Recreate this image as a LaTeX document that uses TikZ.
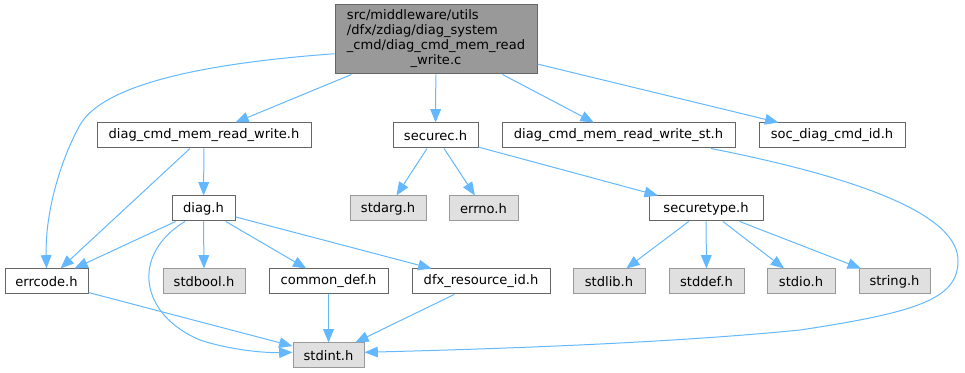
\documentclass[tikz,border=0pt]{standalone}
\usepackage{fontspec}
\setmainfont{DejaVu Sans}
\usepackage{tikz}
\usetikzlibrary{
    arrows.meta,
    positioning
}
\tikzset{
  hfile/.style   = {draw=EdgeGray, fill=white, line width=0.75pt, inner sep=0pt,
                    minimum height=18.75pt, align=center},
  sysfile/.style = {hfile, draw=SysBorder, fill=SysFill},
  srcfile/.style = {draw=EdgeGray, fill=SrcFill, line width=0.75pt, inner sep=0pt,
                    minimum width=151.5pt, minimum height=51.75pt},
  arr/.style     = {-{Triangle[length=10pt,width=8pt]}, line width=0.75pt, DepBlue}
}
\definecolor{DepBlue}{RGB}{99,184,255}
\definecolor{EdgeGray}{RGB}{102,102,102}
\definecolor{SysBorder}{RGB}{153,153,153}
\definecolor{SysFill}{RGB}{224,224,224}
\definecolor{SrcFill}{RGB}{153,153,153}

\begin{document}
\begin{tikzpicture}[x=0.75pt, y=-0.75pt, every node/.style={font=\fontsize{9.8}{11.25}\selectfont}]
\useasboundingbox (0,0) rectangle (965,373);
% source file
\node[srcfile] (root) at (436,39.5)
    {\begin{tabular}{@{}l@{}}src/middleware/utils\\/dfx/zdiag/diag\_system\\\_cmd/diag\_cmd\_mem\_read\\\multicolumn{1}{@{}c@{}}{\_write.c}\end{tabular}};
% first row
\node[hfile, minimum width=160.5pt] (dmrw)    at (204,135.5)   {diag\_cmd\_mem\_read\_write.h};
\node[hfile, minimum width=63.75pt] (securec) at (435.5,135.5) {securec.h};
\node[hfile, minimum width=174.75pt] (dmrwst) at (618.5,135.5) {diag\_cmd\_mem\_read\_write\_st.h};
\node[hfile, minimum width=109.5pt] (socid)   at (832,135.5)   {soc\_diag\_cmd\_id.h};
% second row
\node[hfile, minimum width=47.25pt] (diagh)   at (203.5,208.5) {diag.h};
\node[sysfile, minimum width=57pt]  (stdarg)  at (388,208.5)   {stdarg.h};
\node[sysfile, minimum width=51.75pt] (errno) at (483.5,208.5) {errno.h};
\node[hfile, minimum width=85.5pt]  (sectype) at (706,208.5)   {securetype.h};
% third row
\node[hfile, minimum width=62.25pt] (errcode)   at (46.5,281.5)  {errcode.h};
\node[sysfile, minimum width=61.5pt] (stdbool)  at (204,281.5)   {stdbool.h};
\node[hfile, minimum width=89.25pt] (commondef) at (328.5,281.5) {common\_def.h};
\node[hfile, minimum width=103.5pt] (dfxres)    at (481,281.5)   {dfx\_resource\_id.h};
\node[sysfile, minimum width=54pt]  (stdlib)    at (609,281.5)   {stdlib.h};
\node[sysfile, minimum width=56.25pt] (stddef)  at (706.5,281.5) {stddef.h};
\node[sysfile, minimum width=51pt]  (stdio)     at (801,281.5)   {stdio.h};
\node[sysfile, minimum width=53.25pt] (string)  at (894.5,281.5) {string.h};
% bottom
\node[sysfile, minimum width=53.25pt] (stdint)  at (328.5,355.5) {stdint.h};

% includes of the source file
\draw[arr] (root.188) .. controls (180,65) and (100,90) .. (80,125)
           .. controls (62,157) and (45,210) .. (errcode.north);
\draw[arr] (root) -- (dmrw);
\draw[arr] (root) -- (securec);
\draw[arr] (root) -- (dmrwst);
\draw[arr] (root) -- (socid);
% headers
\draw[arr] (dmrw) -- (diagh);
\draw[arr] (dmrw) -- (errcode);
\draw[arr] (diagh) -- (errcode);
\draw[arr] (diagh.215) .. controls (130,255) and (140,315) .. (200,340)
           .. controls (230,350) and (265,353) .. (stdint.175);
\draw[arr] (diagh) -- (stdbool);
\draw[arr] (diagh) -- (commondef);
\draw[arr] (diagh) -- (dfxres);
\draw[arr] (errcode) -- (stdint);
\draw[arr] (commondef) -- (stdint);
\draw[arr] (dfxres) -- (stdint);
\draw[arr] (securec) -- (stdarg);
\draw[arr] (securec) -- (errno);
\draw[arr] (securec) -- (sectype);
\draw[arr] (sectype) -- (stdlib);
\draw[arr] (sectype) -- (stddef);
\draw[arr] (sectype) -- (stdio);
\draw[arr] (sectype) -- (string);
\draw[arr] (dmrwst.-8) .. controls (860,178) and (960,215) .. (958,262)
           .. controls (957,298) and (920,312) .. (800,330)
           .. controls (650,345) and (450,350) .. (stdint.5);
\end{tikzpicture}
\end{document}
